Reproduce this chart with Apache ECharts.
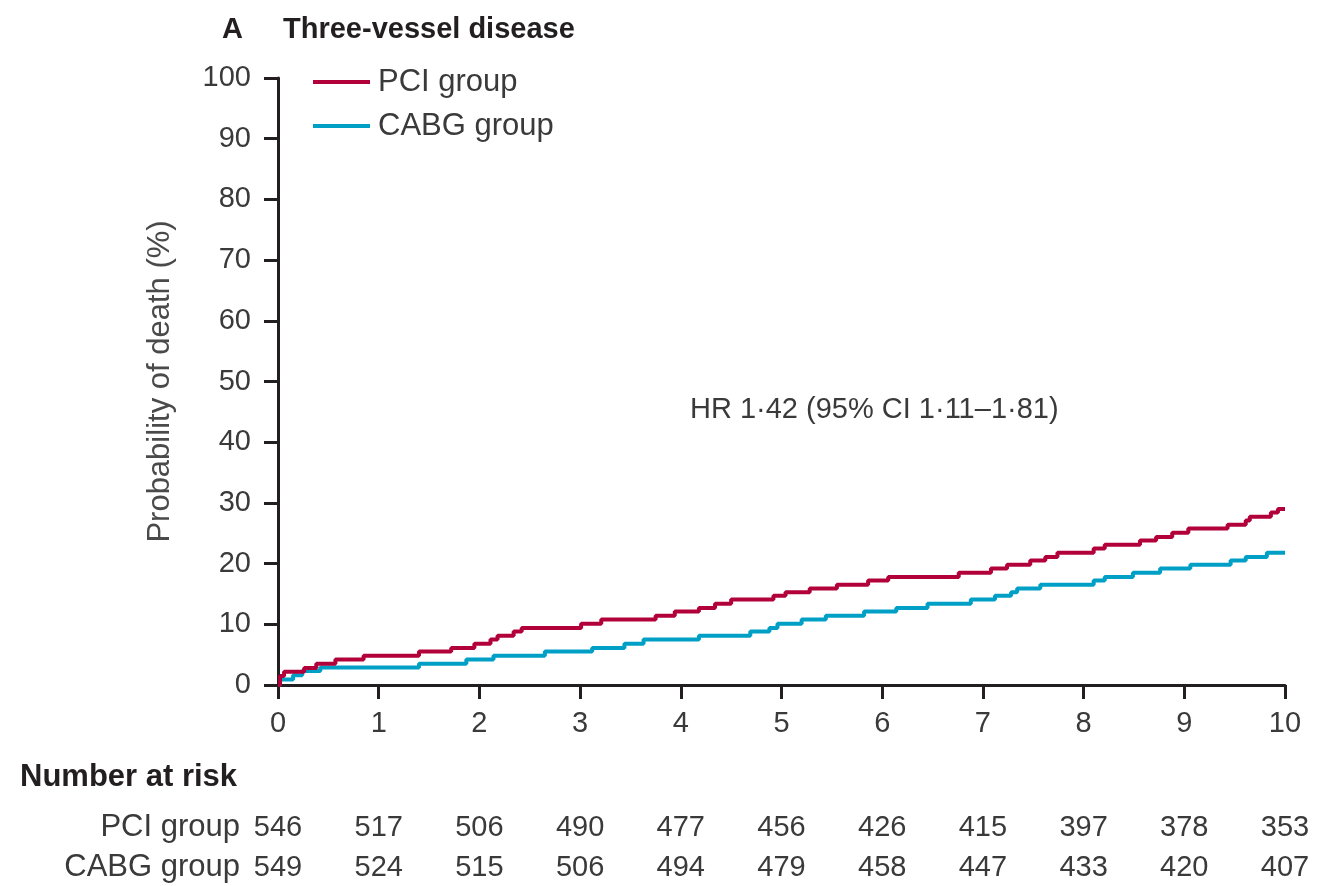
<!DOCTYPE html>
<html>
<head>
<meta charset="utf-8">
<script src="https://cdn.jsdelivr.net/npm/echarts@6/dist/echarts.min.js"></script>
<style>
html,body{margin:0;padding:0;background:#fff;}
#c{width:1317px;height:886px;}
</style>
</head>
<body>
<div id="c"></div>
<script>
// ---- data ----
const seriesNames = ['PCI group', 'CABG group'];
const pciSteps = [[0,0],[0.02,1.5],[0.06,2.2],[0.26,2.8],[0.38,3.5],[0.57,4.2],[0.85,4.8],[1.40,5.5],[1.72,6.1],[1.95,6.8],[2.11,7.5],[2.18,8.1],[2.34,8.8],[2.42,9.4],[3.01,10.1],[3.21,10.8],[3.75,11.4],[3.94,12.1],[4.18,12.7],[4.34,13.4],[4.50,14.1],[4.92,14.7],[5.04,15.3],[5.28,15.9],[5.55,16.5],[5.86,17.2],[6.06,17.8],[6.76,18.5],[7.08,19.2],[7.24,19.8],[7.47,20.5],[7.62,21.1],[7.74,21.8],[8.10,22.5],[8.21,23.1],[8.56,23.8],[8.72,24.4],[8.88,25.1],[9.04,25.8],[9.43,26.4],[9.61,27.1],[9.65,27.7],[9.86,28.4],[9.93,29.0],[10,29.0]];
const cabgSteps = [[0,0],[0.02,0.9],[0.15,1.6],[0.24,2.3],[0.42,2.9],[1.40,3.5],[1.87,4.2],[2.14,4.8],[2.65,5.5],[3.12,6.1],[3.44,6.8],[3.63,7.5],[4.18,8.1],[4.69,8.8],[4.88,9.4],[4.96,10.1],[5.20,10.8],[5.44,11.4],[5.82,12.1],[6.14,12.7],[6.45,13.4],[6.88,14.1],[7.12,14.7],[7.28,15.3],[7.34,15.9],[7.57,16.5],[8.10,17.2],[8.21,17.8],[8.49,18.5],[8.76,19.2],[9.06,19.8],[9.46,20.5],[9.61,21.1],[9.82,21.8],[10,21.8]];
const xTicks = [0,1,2,3,4,5,6,7,8,9,10];
const pciAtRisk = [546,517,506,490,477,456,426,415,397,378,353];
const cabgAtRisk = [549,524,515,506,494,479,458,447,433,420,407];
const hrText = 'HR 1\u00b742 (95% CI 1\u00b711\u20131\u00b781)';
const panelLabel = 'A';
const panelTitle = 'Three-vessel disease';
const yAxisName = 'Probability of death (%)';
const riskTitle = 'Number at risk';

// ---- styles ----
const FONT = 'Liberation Sans, Arial, sans-serif';
const TXT = '#3a3a3a';
const AXIS = '#231f20';
const RED = '#b2003a';
const BLUE = '#00a0c6';
const FS = 29;
const FT = 31;

const chart = echarts.init(document.getElementById('c'), null, {renderer: 'canvas'});

function riskAxis(values, offset) {
  return {
    type: 'value', min: 0, max: 10, interval: 1, position: 'bottom', offset: offset,
    axisLine: {show: false}, axisTick: {show: false}, splitLine: {show: false},
    axisLabel: {
      margin: 0, fontFamily: FONT, fontSize: FS, color: TXT, verticalAlign: 'top',
      formatter: v => { const i = xTicks.indexOf(v); return i >= 0 ? String(values[i]) : ''; }
    }
  };
}

chart.setOption({
  backgroundColor: '#fff',
  animation: false,
  textStyle: {fontFamily: FONT},
  legend: {
    left: 308, top: 61, orient: 'vertical', icon: 'rect',
    itemWidth: 57, itemHeight: 4, itemGap: 12,
    textStyle: {fontFamily: FONT, fontSize: FT, color: TXT, lineHeight: 32, padding: [0,0,0,3]},
    data: seriesNames
  },
  grid: {left: 278, right: 32, top: 78, bottom: 201, containLabel: false},
  xAxis: [
    {
      type: 'value', min: 0, max: 10, interval: 1,
      axisLine: {show: true, onZero: false, lineStyle: {color: AXIS, width: 3}},
      axisTick: {show: true, length: 14, lineStyle: {color: AXIS, width: 3}},
      splitLine: {show: false},
      axisLabel: {margin: 24, fontFamily: FONT, fontSize: FS, color: TXT}
    },
    riskAxis(pciAtRisk, 128),
    riskAxis(cabgAtRisk, 168)
  ],
  yAxis: {
    type: 'value', min: 0, max: 100, interval: 10,
    name: yAxisName, nameLocation: 'middle', nameGap: 102, nameRotate: 90,
    nameTextStyle: {fontFamily: FONT, fontSize: 31, color: '#4a4a4a'},
    axisLine: {show: true, lineStyle: {color: AXIS, width: 3}},
    axisTick: {show: true, length: 14, lineStyle: {color: AXIS, width: 3}},
    splitLine: {show: false},
    axisLabel: {margin: 27, fontFamily: FONT, fontSize: FS, color: TXT}
  },
  series: [
    {
      name: seriesNames[0], type: 'line', step: 'end', data: pciSteps,
      showSymbol: false, symbol: 'none', color: RED,
      lineStyle: {color: RED, width: 4}, z: 3
    },
    {
      name: seriesNames[1], type: 'line', step: 'end', data: cabgSteps,
      showSymbol: false, symbol: 'none', color: BLUE,
      lineStyle: {color: BLUE, width: 4}, z: 2
    }
  ],
  graphic: [
    {type: 'text', left: 222, top: 15, style: {text: panelLabel, fontFamily: FONT, fontSize: 29, fontWeight: 'bold', fill: '#231f20'}},
    {type: 'text', left: 283, top: 15, style: {text: panelTitle, fontFamily: FONT, fontSize: 29, fontWeight: 'bold', fill: '#231f20'}},
    {type: 'text', left: 690, top: 395, style: {text: hrText, fontFamily: FONT, fontSize: FS, fill: TXT}},
    {type: 'text', left: 20, top: 762, style: {text: riskTitle, fontFamily: FONT, fontSize: 31, fontWeight: 'bold', fill: '#231f20'}},
    {type: 'text', right: 1317 - 240, top: 812, style: {text: seriesNames[0], fontFamily: FONT, fontSize: FT, fill: TXT, align: 'right'}},
    {type: 'text', right: 1317 - 240, top: 852, style: {text: seriesNames[1], fontFamily: FONT, fontSize: FT, fill: TXT, align: 'right'}}
  ]
});
</script>
</body>
</html>
